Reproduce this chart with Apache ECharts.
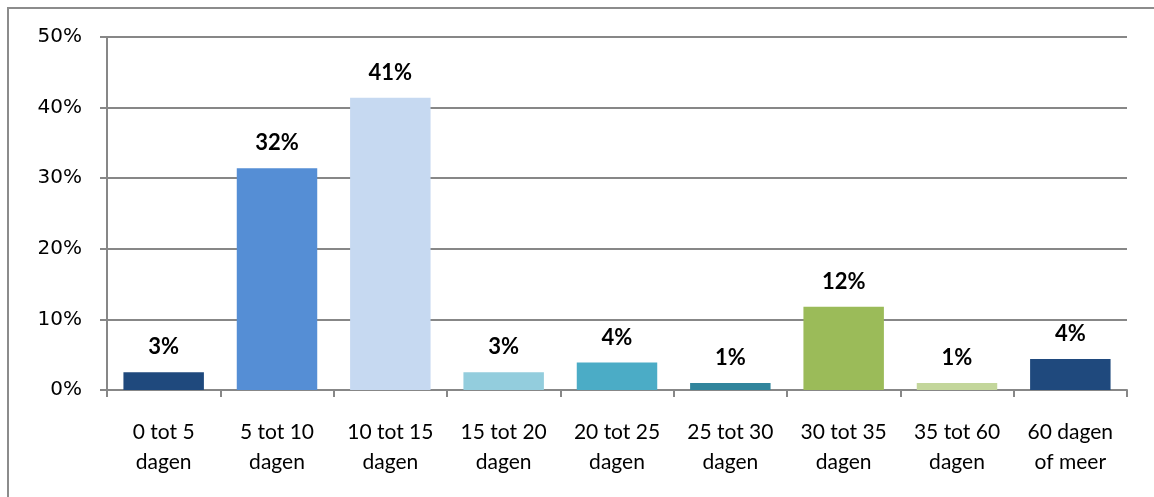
<!DOCTYPE html>
<html>
<head>
<meta charset="utf-8">
<script src="https://cdn.jsdelivr.net/npm/echarts@6/dist/echarts.min.js"></script>
<style>
html, body { margin: 0; padding: 0; background: #fff; }
#frame { position: absolute; left: 7px; top: 7px; width: 1160px; height: 500px; border: 2px solid #8c8c8c; border-bottom: none; border-right: none; box-sizing: border-box; }
#chart { position: absolute; left: 0; top: 0; width: 1154px; height: 497px; }
</style>
</head>
<body>
<div id="frame"></div>
<div id="chart"></div>
<script>
var categories = ['0 tot 5\ndagen', '5 tot 10\ndagen', '10 tot 15\ndagen', '15 tot 20\ndagen',
    '20 tot 25\ndagen', '25 tot 30\ndagen', '30 tot 35\ndagen', '35 tot 60\ndagen', '60 dagen\nof meer'];
var values = [2.5, 31.4, 41.4, 2.5, 3.9, 1.0, 11.8, 1.0, 4.4];
var labels = ['3%', '32%', '41%', '3%', '4%', '1%', '12%', '1%', '4%'];
var colors = ['#1f497d', '#558ed5', '#c6d9f1', '#93cddd', '#4bacc6', '#31859c', '#9bbb59', '#c3d69b', '#1f497d'];

function draw_barchart(id){
    var myChart = echarts.init(document.getElementById(id));
    var option = {
        animation: false,
        grid: { left: 107, right: 27, top: 37, bottom: 107 },
        xAxis: {
            type: 'category',
            data: categories,
            axisLine: { lineStyle: { color: '#878787', width: 2 } },
            axisTick: { show: true, length: 7, lineStyle: { color: '#878787', width: 2 } },
            axisLabel: {
                interval: 0,
                margin: 27,
                color: '#000',
                fontFamily: 'Lato',
                fontSize: 21,
                lineHeight: 30
            }
        },
        yAxis: {
            type: 'value',
            min: 0,
            max: 50,
            interval: 10,
            axisLine: { show: true, lineStyle: { color: '#878787', width: 2 } },
            axisTick: { show: true, length: 7, lineStyle: { color: '#878787', width: 2 } },
            splitLine: { lineStyle: { color: '#878787', width: 2 } },
            axisLabel: {
                formatter: '{value}%',
                margin: 25,
                color: '#000',
                fontFamily: 'DejaVu Sans',
                fontSize: 20
            }
        },
        series: [{
            type: 'bar',
            barCategoryGap: '29%',
            data: values.map(function (v, i) {
                return { value: v, itemStyle: { color: colors[i] } };
            }),
            label: {
                show: true,
                position: 'top',
                distance: 14,
                color: '#000',
                fontFamily: 'Lato',
                fontWeight: 'bold',
                fontSize: 22,
                formatter: function (p) { return labels[p.dataIndex]; }
            }
        }]
    };
    myChart.setOption(option);
}

draw_barchart('chart');
</script>
</body>
</html>
